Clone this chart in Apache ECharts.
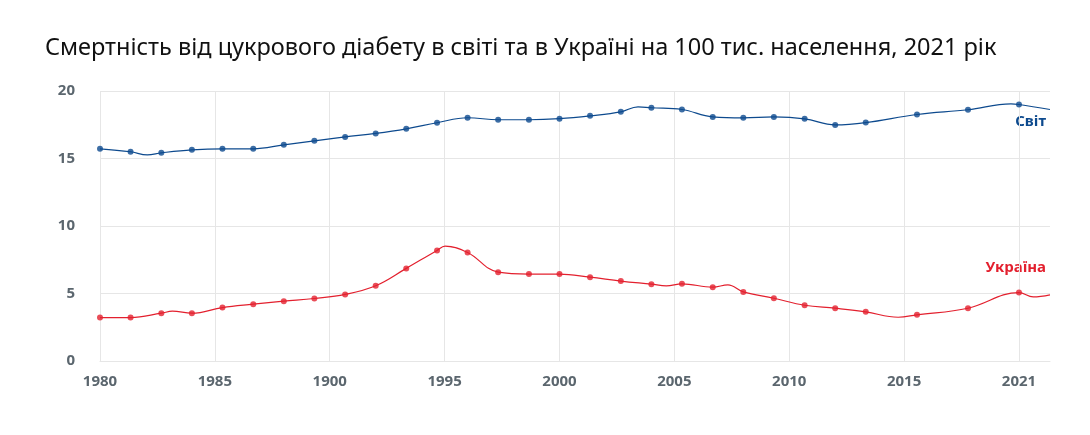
<!DOCTYPE html>
<html>
<head>
<meta charset="utf-8">
<script src="https://cdn.jsdelivr.net/npm/echarts@6/dist/echarts.min.js"></script>
<style>
  html, body { margin: 0; padding: 0; background: #fff; }
  #chart { width: 1090px; height: 435px; }
</style>
</head>
<body>
<div id="chart"></div>
<script>
// marker positions (the x scale: 1 unit = 1 year from 1980)
var years = [1980, 1981.33, 1982.67, 1984, 1985.33, 1986.67, 1988, 1989.33, 1990.67, 1992,
  1993.33, 1994.67, 1996, 1997.33, 1998.67, 2000, 2001.33, 2002.67, 2004, 2005.33,
  2006.67, 2008, 2009.33, 2010.67, 2012, 2013.33, 2015.56, 2017.78, 2020];
var world = [15.72, 15.5, 15.42, 15.64, 15.72, 15.72, 16.01, 16.31, 16.6, 16.86,
  17.2, 17.65, 18.02, 17.87, 17.87, 17.95, 18.16, 18.46, 18.76, 18.63,
  18.08, 18.01, 18.08, 17.94, 17.49, 17.66, 18.26, 18.61, 19.0];
var ukraine = [3.22, 3.22, 3.54, 3.54, 3.96, 4.21, 4.43, 4.63, 4.93, 5.57,
  6.86, 8.19, 8.04, 6.58, 6.44, 6.44, 6.21, 5.92, 5.69, 5.72,
  5.47, 5.12, 4.65, 4.13, 3.91, 3.64, 3.42, 3.91, 5.07];
// curve bends between markers
var worldBends = [[1982.06, 15.27], [2003.42, 18.83], [2019.65, 19.05], [2021.35, 18.63]];
var ukraineBends = [[1983.15, 3.69], [1995.02, 8.51], [2004.65, 5.57], [2007.33, 5.64],
  [2014.74, 3.24], [2020.62, 4.75], [2021.35, 4.9]];
var tickLabels = ['1980', '1985', '1900', '1995', '2000', '2005', '2010', '2015', '2021'];

var blue = '#0d4a8e';
var red = '#e3202e';
var grey = '#e6e6e6';
var font = 'Noto Sans';

function points(vals) {
  var out = [];
  for (var i = 0; i < years.length; i++) out.push([years[i], vals[i]]);
  return out;
}
function curve(vals, bends) {
  return points(vals).concat(bends).sort(function(a, b) { return a[0] - b[0]; });
}

var chart = echarts.init(document.getElementById('chart'));
var gridColors = [];
for (var i = 0; i < tickLabels.length; i++) gridColors.push(grey);
gridColors.push('rgba(0,0,0,0)');

chart.setOption({
  animation: false,
  title: {
    text: 'Смертність від цукрового діабету в світі та в Україні на 100 тис. населення, 2021 рік',
    left: 40,
    top: 31,
    textStyle: { fontFamily: font, fontSize: 23.5, fontWeight: 'normal', color: '#111' }
  },
  grid: { left: 100, right: 40, top: 91, bottom: 74 },
  xAxis: {
    type: 'value',
    min: 1980,
    max: 2021.35,
    interval: 5,
    axisLine: { show: true, lineStyle: { color: grey } },
    axisTick: { show: false },
    splitLine: { show: true, lineStyle: { color: gridColors, width: 1 } },
    axisLabel: {
      margin: 13,
      color: '#5b666e',
      fontFamily: font,
      fontSize: 15,
      fontWeight: 'bold',
      formatter: function(v) {
        var k = (v - 1980) / 5;
        return tickLabels[k] !== undefined && Math.abs(k - Math.round(k)) < 1e-6 ? tickLabels[k] : '';
      }
    }
  },
  yAxis: {
    type: 'value',
    min: 0,
    max: 20,
    interval: 5,
    axisLine: { show: false },
    axisTick: { show: false },
    splitLine: { lineStyle: { color: grey } },
    axisLabel: { margin: 25, color: '#5b666e', fontFamily: font, fontSize: 15, fontWeight: 'bold' }
  },
  series: [
    {
      type: 'line', data: curve(world, worldBends), smooth: 0.4, showSymbol: false,
      lineStyle: { color: blue, width: 1.2 }, z: 2
    },
    {
      type: 'scatter', data: points(world), symbolSize: 6,
      itemStyle: { color: blue }, z: 3
    },
    {
      type: 'line', data: curve(ukraine, ukraineBends), smooth: 0.4, showSymbol: false,
      lineStyle: { color: red, width: 1.2 }, z: 2
    },
    {
      type: 'scatter', data: points(ukraine), symbolSize: 6,
      itemStyle: { color: red }, z: 3
    }
  ],
  graphic: [
    {
      type: 'text', right: 44, top: 114,
      style: { text: 'Світ', fill: blue, font: 'bold 15px "Noto Sans"' }
    },
    {
      type: 'text', right: 44, top: 260,
      style: { text: 'Україна', fill: red, font: 'bold 15px "Noto Sans"' }
    }
  ]
});
</script>
</body>
</html>
